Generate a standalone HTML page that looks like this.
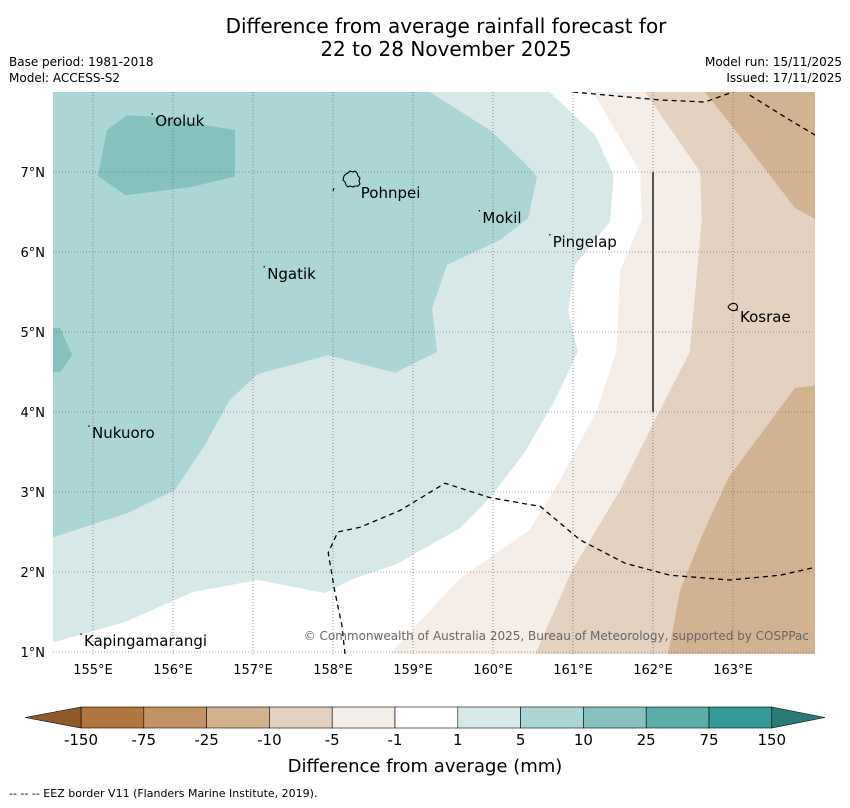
<!DOCTYPE html>
<html><head><meta charset="utf-8"><style>
body{margin:0;background:#fff;font-family:"DejaVu Sans","Liberation Sans",sans-serif;}
svg text{font-family:"DejaVu Sans","Liberation Sans",sans-serif;}
</style></head><body>
<svg id="chart" width="850" height="804" viewBox="0 0 850 804" xmlns="http://www.w3.org/2000/svg">
<text x="446" y="33" font-size="20" text-anchor="middle">Difference from average rainfall forecast for</text>
<text x="446" y="56" font-size="20" text-anchor="middle">22 to 28 November 2025</text>
<text x="9" y="66" font-size="12">Base period: 1981-2018</text>
<text x="9" y="82" font-size="12">Model: ACCESS-S2</text>
<text x="842" y="66" font-size="12" text-anchor="end">Model run: 15/11/2025</text>
<text x="842" y="82" font-size="12" text-anchor="end">Issued: 17/11/2025</text>
<defs><clipPath id="mapclip"><rect x="53" y="92" width="762" height="562"/></clipPath></defs>
<g id="map" clip-path="url(#mapclip)"></g>
<g id="axes"></g>
<g id="cbar"></g>
<text x="425" y="772" font-size="18" text-anchor="middle">Difference from average (mm)</text>
<text x="9" y="797" font-size="11">--  --  -- EEZ border V11 (Flanders Marine Institute, 2019).</text>
</svg>
<script>
const lonMin=154.5, lonMax=164.025, latMin=0.975, latMax=8.0;
const lonTicks=[155,156,157,158,159,160,161,162,163];
const latTicks=[1,2,3,4,5,6,7];
const cbLevels=["-150","-75","-25","-10","-5","-1","1","5","10","25","75","150"];
const cbColors=["#8f5a2a","#af7640","#c19468","#d3b291","#e4d1c0","#f5ede7","#ffffff","#d6e9e8","#abd6d5","#86c1bf","#5badaa","#33999a","#2a7a78"];
const fillLight=[[161.25,8],[161.84,7],[161.86,6.4],[161.59,5.775],[161.54,4.75],[161.3,4.025],[160.84,3.15],[160.46,2.525],[159.59,1.925],[158.71,0.975],[164.1,0.975],[164.1,8]];
const fillMid=[[161.9,8],[162.59,7],[162.61,6.4],[162.46,4.75],[162.025,3.9],[161.59,3.025],[160.99,2.025],[160.53,0.975],[164.1,0.975],[164.1,8]];
const fillDarkN=[[162.65,8],[163.025,7.525],[163.775,6.55],[164.1,6.375],[164.1,8]];
const fillDarkS=[[164.1,4.34],[163.775,4.3],[162.94,3.175],[162.59,2.4],[162.34,1.775],[162.19,0.975],[164.1,0.975]];
const fillBlue1=[[154.4,8],[160.71,8],[161.275,7.46],[161.51,6.96],[161.46,6.375],[161.025,5.84],[160.94,5.275],[161.06,4.75],[160.775,4.15],[160.4,3.5],[159.96,2.925],[159.59,2.55],[158.775,2.0875],[158.275,1.925],[157.9,1.7375],[157.06,1.9],[156.25,1.75],[155.4,1.375],[154.4,1.09]];
const fillBlue2=[[154.4,8],[159.21,8],[159.96,7.525],[160.4,7.11],[160.55,6.94],[160.44,6.425],[160.09,6.15],[159.425,5.84],[159.24,5.3],[159.3,4.75],[158.775,4.49],[157.94,4.71],[157.06,4.475],[156.71,4.15],[156.4,3.59],[156.025,3.025],[155.44,2.74],[154.4,2.4]];
const fillBlue3a=[[155.175,7.525],[155.425,7.71],[155.775,7.69],[156.775,7.525],[156.775,6.94],[156.21,6.81],[155.41,6.71],[155.06,6.95]];
const fillBlue3b=[[154.4,5.05],[154.59,5.05],[154.74,4.71],[154.59,4.5],[154.4,4.49]];
const eezNorth=[[161.0,8],[162.09,7.9],[162.65,7.875],[163.025,8.01]];
const eezNorth2=[[163.21,7.96],[163.71,7.65],[164.03,7.46]];
const eezSouth=[[158.15,0.975],[158.11,1.34],[158.02,1.77],[157.94,2.24],[158.06,2.5],[158.34,2.56],[158.84,2.77],[159.4,3.11],[159.96,2.93],[160.59,2.82],[161.09,2.4],[161.65,2.11],[162.21,1.96],[162.96,1.9],[163.59,1.96],[164.03,2.06]];
const islandNames=["Oroluk","Pohnpei","Mokil","Pingelap","Ngatik","Kosrae","Nukuoro","Kapingamarangi"];
const islandLon=[155.74,158.31,159.83,160.71,157.14,163.05,154.95,154.85];
const islandLat=[7.65,6.75,6.44,6.14,5.74,5.2,3.75,1.15];
const xS=v=>53+(v-lonMin)*80, yS=v=>92+(latMax-v)*80;
const NS="http://www.w3.org/2000/svg";
const map=document.getElementById('map'), axes=document.getElementById('axes'), cb=document.getElementById('cbar');
function mk(tag,attrs,parent){const e=document.createElementNS(NS,tag);for(const k in attrs)e.setAttribute(k,attrs[k]);parent.appendChild(e);return e;}
function pts(a){return a.map(p=>xS(p[0]).toFixed(1)+','+yS(p[1]).toFixed(1)).join(' ');}
let bg=mk('rect',{x:53,y:92,width:762,height:562,fill:'#fff'},map);


const layers=[[fillLight,cbColors[5],'dry-1-5'],[fillMid,cbColors[4],'dry-5-10'],[fillDarkN,cbColors[3],'dry-10-25-north'],[fillDarkS,cbColors[3],'dry-10-25-south'],[fillBlue1,cbColors[7],'wet-1-5'],[fillBlue2,cbColors[8],'wet-5-10'],[fillBlue3a,cbColors[9],'wet-10-25-oroluk'],[fillBlue3b,cbColors[9],'wet-10-25-west']];
layers.forEach(l=>{const p=mk('polygon',{points:pts(l[0]),fill:l[1]},map);

});
lonTicks.forEach(v=>{const l=mk('line',{x1:xS(v),x2:xS(v),y1:92,y2:654,stroke:'#555','stroke-width':0.6,'stroke-dasharray':'1,2'},map);


const t=mk('text',{x:xS(v),y:674,'font-size':13,'text-anchor':'middle'},axes);t.textContent=v+'°E';

});
latTicks.forEach(v=>{const l=mk('line',{x1:53,x2:815,y1:yS(v),y2:yS(v),stroke:'#555','stroke-width':0.6,'stroke-dasharray':'1,2'},map);


const t=mk('text',{x:45,y:yS(v)+5,'font-size':13,'text-anchor':'end'},axes);t.textContent=v+'°N';

});
[eezNorth,eezNorth2,eezSouth].forEach(a=>{const p=mk('polyline',{points:pts(a),fill:'none',stroke:'#000','stroke-width':1.3,'stroke-dasharray':'5,4'},map);

});
let vl=mk('line',{x1:xS(162),x2:xS(162),y1:yS(7),y2:yS(4),stroke:'#222','stroke-width':1.5},map);


let po=mk('path',{d:'M344,176 l2,-2 l2,-1 l2,-2 l3,1 l2,-1 l2,2 l1,3 l2,2 l-1,3 l1,3 l-2,2 l-3,0 l-2,1 l-3,-1 l-2,1 l-2,-2 l-1,-3 l-2,-2 z M334,188 l-1,3',fill:'none',stroke:'#000','stroke-width':1.1},map);


let ko=mk('path',{d:'M728,307 q3,-5 8,-3 q3,3 0,6 q-5,2 -8,-3z',fill:'none',stroke:'#000','stroke-width':1.1},map);


islandNames.forEach((n,i)=>{const t=mk('text',{x:xS(islandLon[i])+3,y:yS(islandLat[i])+6,'font-size':15},map);t.textContent=n;


const d=mk('circle',{cx:xS(islandLon[i]),cy:yS(islandLat[i])-6,r:0.8,fill:'#000'},map);

});
let cp=mk('text',{x:809,y:640,'font-size':12,'text-anchor':'end',fill:'#666'},map);cp.textContent='© Commonwealth of Australia 2025, Bureau of Meteorology, supported by COSPPac';


const cbX0=81, cbW=62.8, cbY=707, cbH=21;
for(let i=0;i<11;i++){const r=mk('rect',{x:cbX0+i*cbW,y:cbY,width:cbW,height:cbH,fill:cbColors[i+1],stroke:'#000','stroke-width':0.6},cb);

}
const xe=cbX0+11*cbW;
let lt=mk('polygon',{points:`${cbX0},${cbY} 25,${cbY+cbH/2} ${cbX0},${cbY+cbH}`,fill:cbColors[0],stroke:'#000','stroke-width':0.6},cb);


let rt=mk('polygon',{points:`${xe},${cbY} 825,${cbY+cbH/2} ${xe},${cbY+cbH}`,fill:cbColors[12],stroke:'#000','stroke-width':0.6},cb);


cbLevels.forEach((v,i)=>{const t=mk('text',{x:cbX0+i*cbW,y:745,'font-size':15,'text-anchor':'middle'},cb);t.textContent=v;

});
</script>
</body></html>
